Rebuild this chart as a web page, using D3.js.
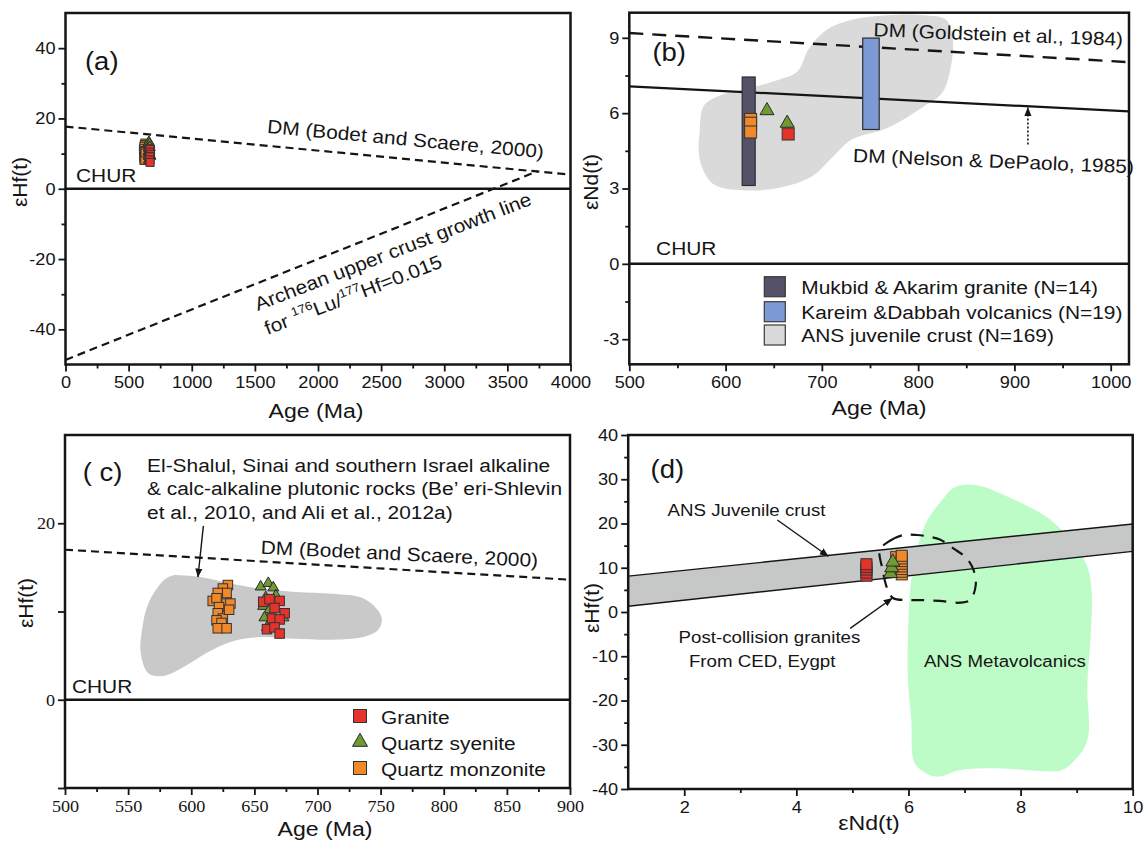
<!DOCTYPE html>
<html lang="en">
<head>
<meta charset="utf-8">
<title>Hf–Nd isotope diagrams</title>
<script src="https://cdn.jsdelivr.net/npm/d3@7/dist/d3.min.js"></script>
<style>
  html, body { margin: 0; padding: 0; background: #fff; }
  svg { display: block; }
</style>
</head>
<body>
<svg id="chart" width="1148" height="841"></svg>
<script>
// ---------- zircon Hf samples: U–Pb age (Ma) and εHf(t) ----------
const graniteAge   = [657, 662, 670, 666, 674, 664, 670, 660, 666, 670];
const graniteHf    = [11.1, 11.4, 11.2, 10.4, 9.8, 9.2, 9.1, 8.0, 8.2, 7.5];
const syeniteAge   = [655, 661, 665, 659, 657, 662, 658, 660, 667, 673];
const syeniteHf    = [12.8, 13.2, 12.7, 11.6, 10.6, 10.2, 9.3, 8.2, 11.8, 9.3];
const monzoniteAge = [629, 625, 628, 621, 617, 620, 628, 631, 622, 621, 625, 620, 624, 621, 628, 630];
const monzoniteHf  = [13.0, 12.6, 12.1, 12.1, 11.2, 11.5, 10.9, 10.9, 10.5, 9.8, 9.2, 9.0, 8.7, 8.1, 8.1, 10.2];

// ---------- Hf evolution lines ----------
const churLevel  = 0;
const dmAgeA     = [0, 4000];
const dmHfA      = [17.7, 4.0];
const archeanAge = [0, 3740];
const archeanHf  = [-48.7, 5.0];
const dmAgeC     = [500, 900];
const dmHfC      = [17.0, 13.6];

// ---------- El-Shalul / Sinai / S. Israel plutonic field ----------
const shalulAge = [592, 607, 630, 654, 683, 712, 736, 748, 751, 748, 736, 712, 683, 654, 630, 612, 595, 578, 566, 560, 561, 566, 578, 586];
const shalulHf  = [14.1, 13.9, 13.2, 12.6, 12.2, 12.0, 11.5, 10.1, 9.0, 7.9, 7.1, 6.8, 6.9, 7.1, 6.5, 5.3, 3.8, 2.7, 3.0, 5.3, 7.9, 10.9, 13.5, 14.1];

// ---------- whole-rock Nd ----------
const ndLineAge     = [500, 1019];
const dmGoldsteinNd = [9.19, 8.03];
const dmNelsonNd    = [7.07, 6.07];
const juvenileAge = [573, 577, 592, 618, 656, 675, 686, 705, 731, 768, 806, 829, 836, 834, 825, 806, 768, 731, 712, 690, 656, 618, 588, 575, 572];
const juvenileNd  = [5.21, 6.27, 6.67, 6.94, 7.34, 7.67, 8.53, 9.32, 9.72, 9.9, 9.9, 9.72, 8.93, 7.86, 6.81, 6.27, 5.41, 4.95, 4.28, 3.49, 3.03, 2.93, 3.16, 3.89, 4.68];
const suiteNames  = ["Mukbid & Akarim granite (N=14)", "Kareim &Dabbah volcanics (N=19)", "ANS juvenile crust (N=169)"];
const suiteAge    = [624, 751];
const suiteNdLow  = [3.12, 5.35];
const suiteNdHigh = [7.44, 8.99];
const ndMonzAge = [626, 626, 626];
const ndMonz    = [5.75, 5.6, 5.25];
const ndSyenAge = [643, 664];
const ndSyen    = [6.1, 5.6];
const ndGranAge = [665];
const ndGran    = [5.17];

// ---------- εNd(t) vs εHf(t) ----------
const bandNd      = [1, 10];
const bandHfUpper = [8.1, 19.9];
const bandHfLower = [1.3, 13.7];
const metaNd = [6.96, 7.25, 7.90, 8.54, 8.93, 9.19, 9.27, 9.25, 9.19, 9.22, 9.16, 9.0, 8.74, 8.22, 7.57, 6.93, 6.51, 6.22, 6.09, 6.05, 5.99, 5.99, 6.05, 6.18, 6.34, 6.60, 6.80];
const metaHf = [28.7, 28.6, 25.3, 20.8, 15.5, 10.3, 4.3, -5.6, -16.9, -26.7, -30.0, -33.0, -35.7, -35.8, -35.3, -35.7, -37.2, -35.7, -33.4, -24.4, -15.3, -5.5, 7.3, 15.5, 20.8, 25.3, 28.0];
const postNd = [5.49, 5.67, 5.91, 6.15, 6.38, 6.56, 6.80, 7.04, 7.16, 7.20, 7.10, 6.92, 6.56, 6.21, 6.00, 5.73, 5.63, 5.53];
const postHf = [14.0, 16.1, 17.4, 17.4, 17.0, 16.4, 14.4, 12.1, 9.5, 6.1, 2.7, 2.1, 2.5, 2.7, 2.7, 3.1, 5.0, 10.0];
const dGranNd = [5.25, 5.25, 5.25, 5.25, 5.25];
const dGranHf = [8.2, 8.9, 9.6, 10.2, 10.8];
const dSyenNd = [5.68, 5.70, 5.72];
const dSyenHf = [8.7, 10.0, 11.3];
const dMonzNd = [5.78, 5.88, 5.88, 5.88, 5.88, 5.88, 5.88, 5.88, 5.88];
const dMonzHf = [12.4, 8.5, 9.1, 9.7, 10.3, 10.9, 11.5, 12.1, 12.7];

const legendNamesC = ["Granite", "Quartz syenite", "Quartz monzonite"];

// ---------- tick values ----------
const ticksA = { xMajor: [0, 500, 1000, 1500, 2000, 2500, 3000, 3500, 4000], xMinor: [250, 750, 1250, 1750, 2250, 2750, 3250, 3750],
                 yMajor: [-40, -20, 0, 20, 40], yMinor: [-30, -10, 10, 30] };
const ticksB = { xMajor: [500, 600, 700, 800, 900, 1000], xMinor: [550, 650, 750, 850, 950],
                 yMajor: [-3, 0, 3, 6, 9], yMinor: [-1.5, 1.5, 4.5, 7.5] };
const ticksC = { xMajor: [500, 550, 600, 650, 700, 750, 800, 850, 900], xMinor: [525, 575, 625, 675, 725, 775, 825, 875],
                 yMajor: [-10, 0, 10, 20], yMinor: [], yLabelled: [0, 20] };
const ticksD = { xMajor: [2, 4, 6, 8, 10], xMinor: [3, 5, 7, 9],
                 yMajor: [-40, -30, -20, -10, 0, 10, 20, 30, 40], yMinor: [-35, -25, -15, -5, 5, 15, 25, 35] };

// ---------- styling ----------
const SANS  = '"Liberation Sans", Arial, Helvetica, sans-serif';
const SERIF = '"Liberation Serif", "Times New Roman", serif';
const SX = 1.1;            // horizontal text stretch
const INK = "#151515";
const COL = { orange: "#f0892a", green: "#6f9a34", red: "#e5322b", dark: "#555168", blue: "#7c9ad6",
              fieldB: "#dadada", fieldC: "#c9c9c9", band: "#c6c8c8", meta: "#bdfcc6" };

const svg = d3.select("#chart");
svg.append("rect").attr("width", 1148).attr("height", 841).attr("fill", "#fff");
const defs = svg.append("defs");
defs.append("marker").attr("id", "tip").attr("viewBox", "0 0 10 10")
  .attr("refX", 9.5).attr("refY", 5).attr("markerWidth", 9).attr("markerHeight", 9)
  .attr("markerUnits", "userSpaceOnUse").attr("orient", "auto")
  .append("path").attr("d", "M0,1 L10,5 L0,9 Z").attr("fill", INK);

function panel(id, box, xDomain, yDomain) {
  const g = svg.append("g");
  const x = d3.scaleLinear().domain(xDomain).range([box.x0, box.x1]);
  const y = d3.scaleLinear().domain(yDomain).range([box.y1, box.y0]);
  defs.append("clipPath").attr("id", "clip-" + id).append("rect")
    .attr("x", box.x0).attr("y", box.y0).attr("width", box.x1 - box.x0).attr("height", box.y1 - box.y0);
  const plot = g.append("g").attr("clip-path", `url(#clip-${id})`);
  return { g, plot, x, y, f: box };
}

function axes(p, t, family, fontSize, labelled) {
  const { g, x, y, f } = p;
  const fmt = d => (labelled && !labelled.includes(d)) ? "" : String(d);
  const style = sel => {
    sel.select(".domain").remove();
    sel.selectAll(".tick line").attr("stroke", INK).attr("stroke-width", 1.8);
    sel.selectAll(".tick text").attr("font-family", family).attr("font-size", fontSize).attr("fill", INK);
  };
  g.append("g").attr("transform", `translate(0,${f.y1})`)
    .call(d3.axisBottom(x).tickValues(t.xMajor).tickFormat(d => String(d)).tickSize(7).tickPadding(5).tickSizeOuter(0))
    .call(style).selectAll(".tick text").attr("transform", `scale(${SX},1)`);
  g.append("g").attr("transform", `translate(0,${f.y1})`)
    .call(d3.axisBottom(x).tickValues(t.xMinor).tickFormat("").tickSize(4).tickSizeOuter(0)).call(style);
  g.append("g").attr("transform", `translate(${f.x0},0)`)
    .call(d3.axisLeft(y).tickValues(t.yMajor).tickFormat(fmt).tickSize(7).tickPadding(3).tickSizeOuter(0))
    .call(style).selectAll(".tick text").attr("x", -10 / SX).attr("transform", `scale(${SX},1)`);
  g.append("g").attr("transform", `translate(${f.x0},0)`)
    .call(d3.axisLeft(y).tickValues(t.yMinor).tickFormat("").tickSize(4).tickSizeOuter(0)).call(style);
}

function frame(p) {
  p.g.append("rect").attr("x", p.f.x0).attr("y", p.f.y0)
    .attr("width", p.f.x1 - p.f.x0).attr("height", p.f.y1 - p.f.y0)
    .attr("fill", "none").attr("stroke", INK).attr("stroke-width", 2.5);
}

function txt(parent, px, py, str, o = {}) {
  return parent.append("text")
    .attr("transform", `translate(${px},${py}) rotate(${o.rot || 0}) scale(${o.sx === undefined ? SX : o.sx},1)`)
    .attr("text-anchor", o.anchor || "start")
    .attr("font-family", o.family || SANS).attr("font-size", o.size || 19)
    .attr("fill", INK).text(str);
}

function lineOf(p, xs, ys) {
  return d3.line().x(d => p.x(d[0])).y(d => p.y(d[1]))(d3.zip(xs, ys));
}
function slopeDeg(p, xs, ys) {
  return Math.atan2(p.y(ys[1]) - p.y(ys[0]), p.x(xs[1]) - p.x(xs[0])) * 180 / Math.PI;
}
function refLine(p, xs, ys, width, dash) {
  p.plot.append("path").attr("d", lineOf(p, xs, ys)).attr("fill", "none")
    .attr("stroke", INK).attr("stroke-width", width).attr("stroke-dasharray", dash || null);
}
function field(p, xs, ys, fill) {
  p.plot.append("path")
    .attr("d", d3.line().x(d => p.x(d[0])).y(d => p.y(d[1])).curve(d3.curveCatmullRomClosed.alpha(0.5))(d3.zip(xs, ys)))
    .attr("fill", fill).attr("stroke", "none");
}
function squares(p, xs, ys, color, side) {
  p.g.append("g").selectAll("rect").data(d3.zip(xs, ys)).join("rect")
    .attr("x", d => p.x(d[0]) - side / 2).attr("y", d => p.y(d[1]) - side / 2)
    .attr("width", side).attr("height", side)
    .attr("fill", color).attr("stroke", "#333").attr("stroke-width", 1);
}
function triangles(p, xs, ys, color, w) {
  const sym = d3.symbol(d3.symbolTriangle, w * w * Math.sqrt(3) / 4);
  p.g.append("g").selectAll("path").data(d3.zip(xs, ys)).join("path")
    .attr("transform", d => `translate(${p.x(d[0])},${p.y(d[1])})`)
    .attr("d", sym).attr("fill", color).attr("stroke", "#2a2a2a").attr("stroke-width", 1);
}
function arrow(p, from, to, dash) {
  p.g.append("line")
    .attr("x1", p.x(from[0])).attr("y1", p.y(from[1]))
    .attr("x2", p.x(to[0])).attr("y2", p.y(to[1]))
    .attr("stroke", INK).attr("stroke-width", dash ? 1.6 : 1.4)
    .attr("stroke-dasharray", dash || null).attr("marker-end", "url(#tip)");
}

// ================= (a) εHf(t) vs age, 0–4000 Ma =================
const A = panel("a", { x0: 65.5, x1: 570.5, y0: 13, y1: 364.5 }, [0, 4000], [-50, 50]);
refLine(A, dmAgeA, dmHfA, 2.2, "8,5");
refLine(A, archeanAge, archeanHf, 2.2, "8,5");
refLine(A, [0, 4000], [churLevel, churLevel], 2.5);
squares(A, monzoniteAge, monzoniteHf, COL.orange, 8);
triangles(A, syeniteAge, syeniteHf, COL.green, 11);
squares(A, graniteAge, graniteHf, COL.red, 8);
axes(A, ticksA, SANS, 16.5);
txt(A.g, A.x(154), A.y(33.8), "(a)", { size: 25 });
txt(A.g, A.x(83), A.y(2.0), "CHUR", { size: 19 });
txt(A.g, A.x(2689), A.y(12.3), "DM (Bodet and Scaere, 2000)", { anchor: "middle", rot: slopeDeg(A, dmAgeA, dmHfA) - 0.2 });
txt(A.g, A.x(2613), A.y(-19.6), "Archean upper crust growth line", { anchor: "middle", rot: slopeDeg(A, archeanAge, archeanHf) + 0.6 });
{
  const t = txt(A.g, A.x(2297), A.y(-31.9), "", { anchor: "middle", rot: slopeDeg(A, archeanAge, archeanHf) + 0.6 });
  t.append("tspan").text("for ");
  t.append("tspan").attr("font-size", 12).attr("dy", -8).text("176");
  t.append("tspan").attr("dy", 8).text("Lu/");
  t.append("tspan").attr("font-size", 12).attr("dy", -8).text("177");
  t.append("tspan").attr("dy", 8).text("Hf=0.015");
}
txt(A.g, 316, 418, "Age (Ma)", { anchor: "middle", size: 21 });
txt(A.g, 27, 182, "εHf(t)", { anchor: "middle", size: 21, rot: -90, sx: 1 });
frame(A);

// ================= (b) εNd(t) vs age =================
const B = panel("b", { x0: 629.3, x1: 1129, y0: 12.7, y1: 364.3 }, [500, 1019], [-4, 10]);
field(B, juvenileAge, juvenileNd, COL.fieldB);
refLine(B, ndLineAge, dmGoldsteinNd, 2.4, "14,9");
refLine(B, ndLineAge, dmNelsonNd, 2.2);
refLine(B, ndLineAge, [churLevel, churLevel], 2.5);
const barW = [13, 16.5];
B.g.append("g").selectAll("rect").data(suiteAge).join("rect")
  .attr("x", (d, i) => B.x(d) - barW[i] / 2).attr("width", (d, i) => barW[i])
  .attr("y", (d, i) => B.y(suiteNdHigh[i])).attr("height", (d, i) => B.y(suiteNdLow[i]) - B.y(suiteNdHigh[i]))
  .attr("fill", (d, i) => [COL.dark, COL.blue][i]).attr("stroke", "#2e2e2e").attr("stroke-width", 1.2);
squares(B, ndMonzAge, ndMonz, COL.orange, 12);
triangles(B, ndSyenAge, ndSyen, COL.green, 14);
squares(B, ndGranAge, ndGran, COL.red, 12);
axes(B, ticksB, SANS, 16.5);
txt(B.g, B.x(524), B.y(8.09), "(b)", { size: 25 });
txt(B.g, B.x(527.8), B.y(0.37), "CHUR", { size: 19 });
txt(B.g, B.x(883), B.y(8.87), "DM (Goldstein et al., 1984)", { anchor: "middle", rot: 2.2 });
txt(B.g, B.x(878), B.y(3.83), "DM (Nelson & DePaolo, 1985)", { anchor: "middle", rot: 2.3 });
{
  const a0 = 914;
  const nd = dmNelsonNd[0] + (dmNelsonNd[1] - dmNelsonNd[0]) * (a0 - ndLineAge[0]) / (ndLineAge[1] - ndLineAge[0]);
  arrow(B, [a0, 4.75], [a0, nd - 0.05], "2,2");
}
{
  const lg = B.g.append("g").attr("transform", `translate(${B.f.x0 + 135},${B.f.y0 + 264})`);
  const fills = [COL.dark, COL.blue, COL.fieldB];
  const rows = [0, 25, 48.3];
  suiteNames.forEach((name, i) => {
    lg.append("rect").attr("x", 0).attr("y", rows[i]).attr("width", 21).attr("height", 20)
      .attr("fill", fills[i]).attr("stroke", "#3a3a3a").attr("stroke-width", 1.2);
    txt(lg, 37, rows[i] + 17, name, { size: 19 });
  });
}
txt(B.g, 879, 414.5, "Age (Ma)", { anchor: "middle", size: 21 });
txt(B.g, 598, 182, "εNd(t)", { anchor: "middle", size: 21, rot: -90, sx: 1 });
frame(B);

// ================= (c) εHf(t) vs age, 500–900 Ma =================
const C = panel("c", { x0: 65, x1: 570, y0: 435, y1: 788 }, [500, 900], [-10, 30]);
field(C, shalulAge, shalulHf, COL.fieldC);
refLine(C, dmAgeC, dmHfC, 2.2, "8,5");
refLine(C, [500, 900], [churLevel, churLevel], 2.5);
squares(C, monzoniteAge, monzoniteHf, COL.orange, 9.5);
triangles(C, syeniteAge, syeniteHf, COL.green, 11);
squares(C, graniteAge, graniteHf, COL.red, 9.5);
axes(C, ticksC, SERIF, 16.5, ticksC.yLabelled);
txt(C.g, C.x(514), C.y(24.8), "( c)", { size: 25 });
txt(C.g, C.x(505.5), C.y(0.76), "CHUR", { size: 19 });
txt(C.g, C.x(565), C.y(25.8), "El-Shalul, Sinai and southern Israel alkaline", { size: 19 });
txt(C.g, C.x(565), C.y(23.15), "& calc-alkaline plutonic rocks (Be\u2019 eri-Shlevin", { size: 19 });
txt(C.g, C.x(565), C.y(20.5), "et al., 2010, and Ali et al., 2012a)", { size: 19 });
arrow(C, [609.6, 19.7], [605.3, 13.9]);
txt(C.g, C.x(764.6), C.y(15.8), "DM (Bodet and Scaere, 2000)", { anchor: "middle", rot: 2.7 });
{
  const lg = C.g.append("g").attr("transform", `translate(${C.f.x0 + 295},${C.f.y0 + 281})`);
  const rows = [0, 26, 52];
  lg.append("rect").attr("x", -6.5).attr("y", rows[0] - 6.5).attr("width", 13).attr("height", 13)
    .attr("fill", COL.red).attr("stroke", "#333");
  lg.append("path").attr("transform", `translate(0,${rows[1]})`)
    .attr("d", d3.symbol(d3.symbolTriangle, 15 * 15 * Math.sqrt(3) / 4)).attr("fill", COL.green).attr("stroke", "#2a2a2a");
  lg.append("rect").attr("x", -6.5).attr("y", rows[2] - 6.5).attr("width", 13).attr("height", 13)
    .attr("fill", COL.orange).attr("stroke", "#333");
  legendNamesC.forEach((name, i) => txt(lg, 21, rows[i] + 8, name, { size: 19 }));
}
txt(C.g, 325, 836, "Age (Ma)", { anchor: "middle", size: 21 });
txt(C.g, 33, 603, "εHf(t)", { anchor: "middle", size: 21, rot: -90, sx: 1 });
frame(C);

// ================= (d) εHf(t) vs εNd(t) =================
const D = panel("d", { x0: 628.2, x1: 1132.7, y0: 435, y1: 789 }, [1, 10], [-40, 40]);
field(D, metaNd, metaHf, COL.meta);
D.plot.append("path")
  .attr("d", lineOf(D, bandNd.concat(bandNd.slice().reverse()), bandHfUpper.concat(bandHfLower.slice().reverse())) + "Z")
  .attr("fill", COL.band).attr("stroke", "none");
refLine(D, bandNd, bandHfUpper, 1.4);
refLine(D, bandNd, bandHfLower, 1.4);
D.plot.append("path")
  .attr("d", d3.line().x(d => D.x(d[0])).y(d => D.y(d[1])).curve(d3.curveCatmullRomClosed.alpha(0.5))(d3.zip(postNd, postHf)))
  .attr("fill", "none").attr("stroke", INK).attr("stroke-width", 2.2).attr("stroke-dasharray", "13,9");
squares(D, dMonzNd, dMonzHf, COL.orange, 11);
triangles(D, dSyenNd, dSyenHf, COL.green, 14);
squares(D, dGranNd, dGranHf, COL.red, 11);
axes(D, ticksD, SANS, 16.5);
txt(D.g, D.x(1.40), D.y(30.3), "(d)", { size: 25 });
txt(D.g, D.x(3.11), D.y(21.7), "ANS Juvenile crust", { anchor: "middle", size: 17 });
arrow(D, [3.66, 20.8], [4.57, 12.6]);
txt(D.g, D.x(3.52), D.y(-7.1), "Post-collision granites", { anchor: "middle", size: 17 });
txt(D.g, D.x(3.39), D.y(-12.5), "From CED, Eygpt", { anchor: "middle", size: 17 });
arrow(D, [4.96, -3.7], [5.71, 3.1]);
txt(D.g, D.x(7.72), D.y(-12.4), "ANS Metavolcanics", { anchor: "middle", size: 17 });
txt(D.g, 869, 830, "εNd(t)", { anchor: "middle", size: 21 });
txt(D.g, 599, 608, "εHf(t)", { anchor: "middle", size: 21, rot: -90, sx: 1 });
frame(D);
</script>
</body>
</html>
